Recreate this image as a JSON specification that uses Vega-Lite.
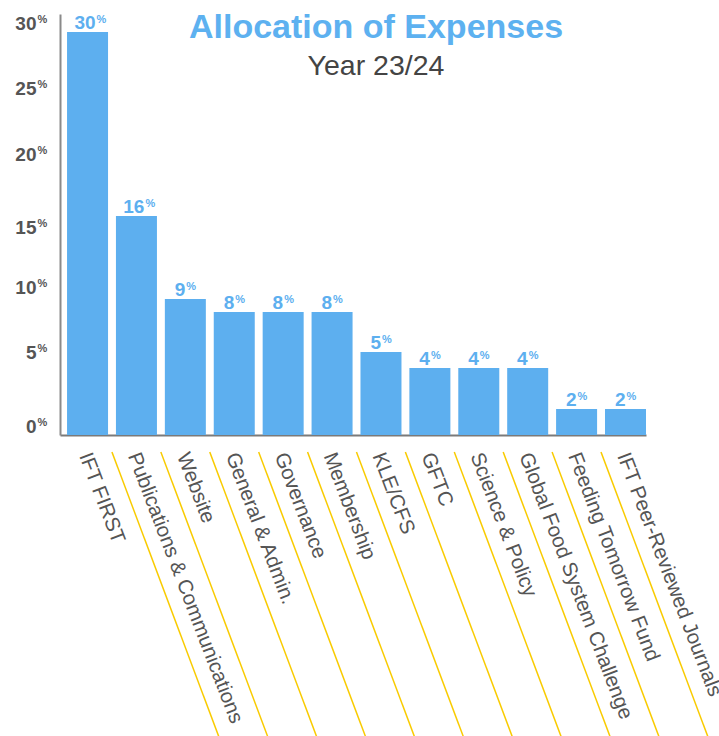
{
  "$schema": "https://vega.github.io/schema/vega-lite/v6.json",
  "width": 586,
  "height": 421,
  "autosize": "none",
  "padding": {"left": 60, "top": 14, "right": 73, "bottom": 301},
  "background": "white",
  "config": {"view": {"stroke": null}, "font": "Liberation Sans"},
  "title": {
    "text": "Allocation of Expenses",
    "subtitle": "Year 23/24",
    "font": "Liberation Sans",
    "fontSize": 34,
    "fontWeight": "bold",
    "color": "#5DB1F0",
    "subtitleFont": "Liberation Sans",
    "subtitleFontSize": 28.5,
    "subtitleColor": "#444444",
    "subtitlePadding": 7,
    "anchor": "middle",
    "frame": "group",
    "offset": -67,
    "dx": 23
  },
  "data": {
    "values": [
      {"category": "IFT FIRST", "value": 30},
      {"category": "Publications & Communications", "value": 16},
      {"category": "Website", "value": 9},
      {"category": "General & Admin.", "value": 8},
      {"category": "Governance", "value": 8},
      {"category": "Membership", "value": 8},
      {"category": "KLE/CFS", "value": 5},
      {"category": "GFTC", "value": 4},
      {"category": "Science & Policy", "value": 4},
      {"category": "Global Food System Challenge", "value": 4},
      {"category": "Feeding Tomorrow Fund", "value": 2},
      {"category": "IFT Peer-Reviewed Journals", "value": 2}
    ]
  },
  "encoding": {
    "x": {
      "field": "category",
      "type": "nominal",
      "sort": null,
      "scale": {"paddingInner": 0.1616, "paddingOuter": 0.072, "align": 1},
      "axis": {
        "title": null,
        "ticks": false,
        "domainColor": "#7a7a7a",
        "domainWidth": 2,
        "labelAngle": 69,
        "labelAlign": "left",
        "labelBaseline": "middle",
        "labelFont": "Liberation Sans",
        "labelFontSize": 20.5,
        "labelColor": "#555555",
        "labelPadding": 18,
        "labelOffset": -3,
        "labelLimit": 500,
        "labelOverlap": false
      }
    }
  },
  "layer": [
    {
      "mark": {"type": "bar", "color": "#5DAFEF"},
      "encoding": {
        "y": {
          "field": "value",
          "type": "quantitative",
          "scale": {
            "domain": [0, 2, 4, 5, 8, 9, 16, 30, 31.37],
            "range": [421, 395, 354, 338, 298, 285, 202, 18, 0],
            "nice": false,
            "zero": false
          },
          "axis": {
            "title": null,
            "orient": "left",
            "values": [0, 5, 10, 15, 20, 25, 30],
            "labelExpr": "format(datum.value, 'd')",
            "ticks": false,
            "grid": false,
            "domainColor": "#8a8a8a",
            "domainWidth": 2,
            "labelFont": "Liberation Sans",
            "labelFontSize": 19,
            "labelFontWeight": "bold",
            "labelColor": "#555555",
            "labelPadding": 24,
            "labelOffset": {"condition": {"test": "datum.value >= 20 || datum.value == 0", "value": -9}, "value": 0}
          }
        }
      }
    },
    {
      "transform": [{"filter": "datum.category != 'IFT FIRST'"}],
      "mark": {
        "type": "rule",
        "color": "#F9CB00",
        "strokeWidth": 1.5,
        "xOffset": -24.5,
        "x2Offset": 85.5,
        "yOffset": 17,
        "y2Offset": 310
      },
      "encoding": {
        "x2": {"field": "category"},
        "y": {"datum": 0, "type": "quantitative", "axis": null},
        "y2": {"datum": 0}
      }
    },
    {
      "transform": [{"filter": "datum.value >= 10"}],
      "mark": {
        "type": "text",
        "align": "right",
        "baseline": "alphabetic",
        "dx": 8,
        "dy": -3,
        "font": "Liberation Sans",
        "fontSize": 19,
        "fontWeight": "bold",
        "color": "#5DAFEF"
      },
      "encoding": {
        "y": {"field": "value", "type": "quantitative", "axis": null},
        "text": {"field": "value", "type": "quantitative", "format": "d"}
      }
    },
    {
      "transform": [{"filter": "datum.value < 10"}],
      "mark": {
        "type": "text",
        "align": "right",
        "baseline": "alphabetic",
        "dx": 0,
        "dy": -3,
        "font": "Liberation Sans",
        "fontSize": 19,
        "fontWeight": "bold",
        "color": "#5DAFEF"
      },
      "encoding": {
        "y": {"field": "value", "type": "quantitative", "axis": null},
        "text": {"field": "value", "type": "quantitative", "format": "d"}
      }
    },
    {
      "transform": [{"filter": "datum.value >= 10"}],
      "mark": {
        "type": "text",
        "align": "left",
        "baseline": "alphabetic",
        "dx": 9,
        "dy": -9,
        "font": "Liberation Sans",
        "fontSize": 11,
        "fontWeight": "bold",
        "color": "#5DAFEF"
      },
      "encoding": {
        "y": {"field": "value", "type": "quantitative", "axis": null},
        "text": {"value": "%"}
      }
    },
    {
      "transform": [{"filter": "datum.value < 10"}],
      "mark": {
        "type": "text",
        "align": "left",
        "baseline": "alphabetic",
        "dx": 1,
        "dy": -9,
        "font": "Liberation Sans",
        "fontSize": 11,
        "fontWeight": "bold",
        "color": "#5DAFEF"
      },
      "encoding": {
        "y": {
          "field": "value",
          "type": "quantitative",
          "axis": {
            "title": null,
            "orient": "left",
            "values": [0, 5, 10, 15, 20, 25, 30],
            "labelExpr": "'%'",
            "ticks": false,
            "grid": false,
            "domain": false,
            "labelAlign": "left",
            "labelFont": "Liberation Sans",
            "labelFontSize": 11,
            "labelFontWeight": "bold",
            "labelColor": "#555555",
            "labelPadding": 23,
            "labelOffset": {"condition": {"test": "datum.value >= 20 || datum.value == 0", "value": -13}, "value": -4}
          }
        },
        "text": {"value": "%"}
      }
    }
  ],
  "resolve": {"axis": {"y": "independent"}}
}
